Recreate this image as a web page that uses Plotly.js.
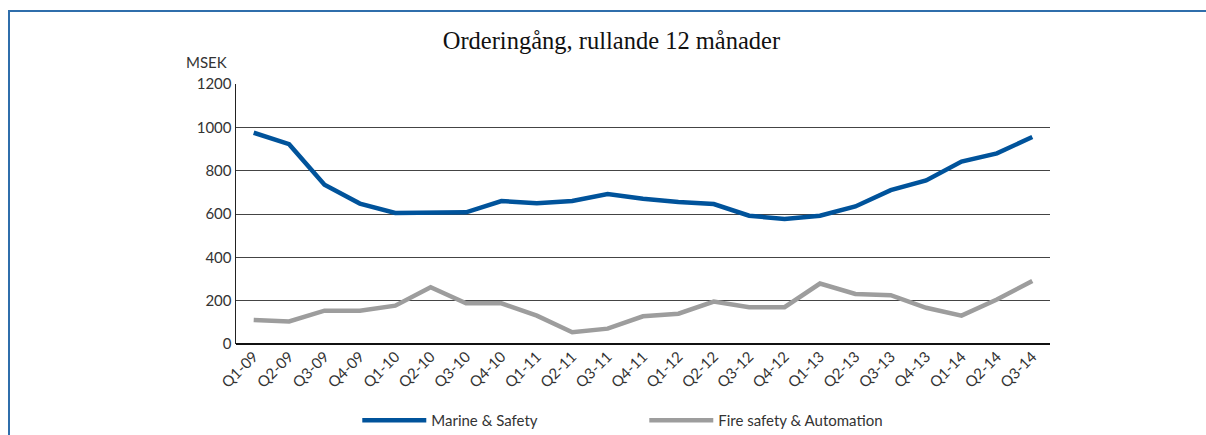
<!DOCTYPE html>
<html>
<head>
<meta charset="utf-8">
<script src="https://cdn.plot.ly/plotly-3.0.1.min.js"></script>
<style>
  html, body { margin: 0; padding: 0; background: #fff; }
  #wrap { position: relative; width: 1206px; height: 435px; overflow: hidden; }
  #chart { position: absolute; left: 0; top: 0; width: 1206px; height: 435px; }
  #frame { position: absolute; left: 8px; top: 10px; width: 1300px; height: 500px;
           border-top: 2px solid #2f6eab; border-left: 2px solid #2f6eab; pointer-events: none; }
</style>
</head>
<body>
<div id="wrap">
  <div id="chart"></div>
  <div id="frame"></div>
</div>
<script>
const categories = ["Q1-09","Q2-09","Q3-09","Q4-09","Q1-10","Q2-10","Q3-10","Q4-10",
  "Q1-11","Q2-11","Q3-11","Q4-11","Q1-12","Q2-12","Q3-12","Q4-12",
  "Q1-13","Q2-13","Q3-13","Q4-13","Q1-14","Q2-14","Q3-14"];
const marineSafety = [975, 922, 735, 648, 605, 605, 608, 660, 650, 660, 692, 670, 655, 646,
  592, 577, 592, 635, 710, 755, 842, 880, 955];
const fireSafetyAutomation = [111, 104, 154, 154, 177, 262, 188, 188, 131, 54, 71, 128, 140, 196,
  170, 170, 279, 231, 225, 167, 131, 205, 291];
const yTicks = [0, 200, 400, 600, 800, 1000, 1200];
const titleText = "Orderingång, rullande 12 månader";
const unitLabel = "MSEK";
const seriesNames = ["Marine & Safety", "Fire safety & Automation"];

const traces = [
  { x: categories, y: marineSafety, name: seriesNames[0], type: "scatter", mode: "lines",
    line: { color: "#00539b", width: 4.5 } },
  { x: categories, y: fireSafetyAutomation, name: seriesNames[1], type: "scatter", mode: "lines",
    line: { color: "#9d9d9d", width: 4.5 } }
];

const layout = {
  width: 1206, height: 435,
  margin: { l: 236, r: 156, t: 84, b: 90.5, pad: 0, autoexpand: false },
  paper_bgcolor: "#ffffff", plot_bgcolor: "#ffffff",
  font: { family: "Lato, 'Open Sans', sans-serif", color: "#333", size: 15 },
  title: { text: titleText, x: 0.507, xanchor: "center", y: 1 - 40/435, yanchor: "middle",
    font: { family: "'Liberation Serif', 'DejaVu Serif', serif", size: 24.5, color: "#111" } },
  xaxis: { type: "category", tickangle: -45, showgrid: false, zeroline: false, automargin: false,
    showline: false, ticks: "", tickfont: { size: 15, color: "#333" },
    range: [-0.5, categories.length - 0.5] },
  yaxis: { range: [0, 1200], tickvals: yTicks, ticktext: yTicks.map(String), automargin: false,
    showgrid: true, gridcolor: "#444", gridwidth: 1,
    zeroline: true, zerolinecolor: "#111", zerolinewidth: 1.5,
    showline: true, linecolor: "#222", linewidth: 1.5, ticks: "", ticklen: 0,
    tickfont: { size: 15, color: "#333" } },
  showlegend: true,
  legend: { orientation: "h", x: 0.149, xanchor: "left", yref: "container", y: 1 - 420.5/435, yanchor: "middle",
    itemwidth: 64, entrywidth: 208, entrywidthmode: "pixels",
    font: { size: 15, color: "#333" }, bgcolor: "rgba(0,0,0,0)", traceorder: "normal" },
  annotations: [
    { text: unitLabel, xref: "paper", yref: "paper", x: -0.008, y: 1.085,
      xanchor: "right", yanchor: "middle", showarrow: false,
      font: { size: 15, color: "#333" } }
  ]
};

Plotly.newPlot("chart", traces, layout, { displayModeBar: false, staticPlot: true });
</script>
</body>
</html>
